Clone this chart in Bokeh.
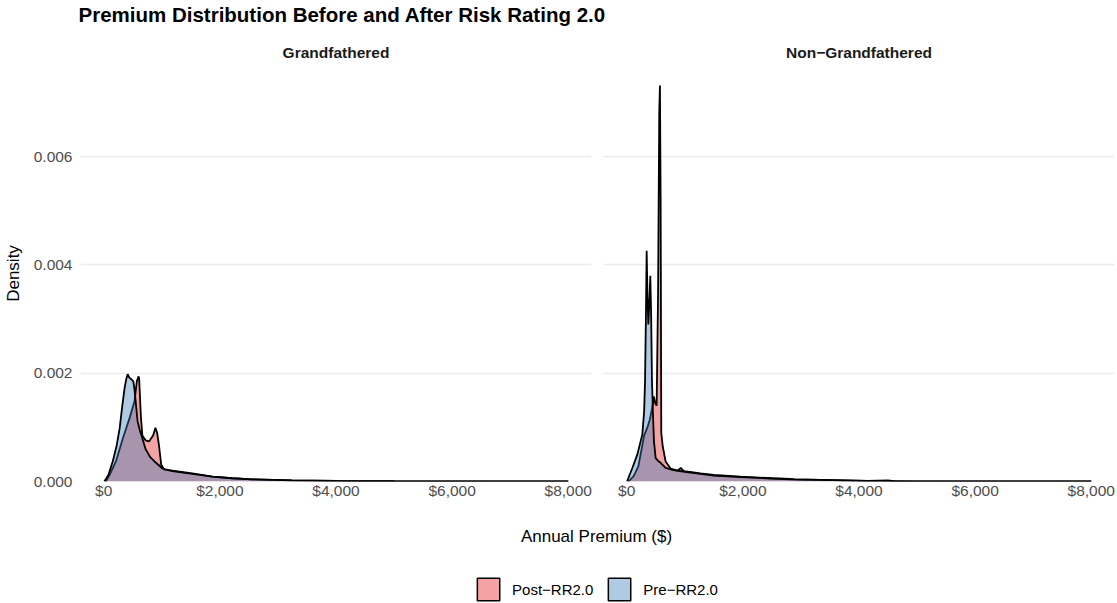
from bokeh.plotting import figure
from bokeh.layouts import column, row
from bokeh.models import Range1d, FixedTicker, NumeralTickFormatter, Title, Legend, LegendItem
from bokeh.embed import file_html
from bokeh.resources import INLINE

FONT = "Liberation Sans"

# ---- data (Annual premium $, density) ----
grand_post_x = [35, 100, 210, 330, 445, 530, 570, 600, 610, 640, 665, 720, 780, 850, 890, 920, 950, 990, 1040,
                1180, 1525, 1870, 2210, 2555, 3240, 4000, 5000, 6000, 7000, 8000]
grand_post_y = [0, 0.00012, 0.00037, 0.0008, 0.00117, 0.00148, 0.00185, 0.00194, 0.0019, 0.0012, 0.00085,
                0.00076, 0.00074, 0.00085, 0.00099, 0.0009, 0.00068, 0.00031, 0.00022,
                0.0002, 0.00015, 0.00009, 0.00006, 0.00004, 0.00002, 0.00001, 0.000005, 0.000003, 0.000002, 0.000001]

grand_pre_x = [10, 80, 155, 220, 274, 320, 360, 390, 412, 440, 463, 490, 510, 530, 550, 583, 620, 670, 720,
               800, 875, 950, 1010, 1180, 1525, 1870, 2210, 2555, 3240, 4000, 5000, 6000, 7000, 8000]
grand_pre_y = [0, 0.00012, 0.00037, 0.00065, 0.00098, 0.0014, 0.00173, 0.0019, 0.00198, 0.00192, 0.0019,
               0.00187, 0.00185, 0.0017, 0.00148, 0.00111, 0.00095, 0.00078, 0.0006,
               0.00045, 0.00037, 0.0003, 0.00024, 0.00019, 0.00014, 0.00009, 0.00006, 0.00004, 0.00002,
               0.00001, 0.000005, 0.000003, 0.000002, 0.000001]

nong_post_x = [30, 120, 200, 300, 350, 400, 445, 465, 490, 515, 540, 560, 572, 584, 595, 620, 670, 755, 880,
               930, 980, 1150, 1270, 1500, 1960, 2500, 2820, 2900, 3330, 4140, 4500, 4600, 5000, 6000, 7000, 8000]
nong_post_y = [0, 0.0001, 0.00028, 0.00085, 0.00098, 0.00115, 0.0014, 0.00157, 0.00145, 0.0014, 0.0035,
               0.0068, 0.00731, 0.0052, 0.0009, 0.00065, 0.00037, 0.00024, 0.0002,
               0.00025, 0.00019, 0.00017, 0.00015, 0.00012, 0.00009, 0.00006, 0.00005, 0.00004, 0.00003,
               0.00001, 0.00002, 0.000005, 0.000003, 0.000002, 0.000001, 0.0]

nong_pre_x = [5, 97, 183, 269, 300, 315, 330, 343, 358, 372, 390, 406, 420, 435, 452, 469, 498, 540, 580,
              670, 800, 1000, 1270, 1500, 1960, 2400, 2820, 3330, 4140, 5000, 6000, 7000, 8000]
nong_pre_y = [0, 0.00025, 0.0005, 0.00087, 0.0013, 0.00185, 0.003, 0.00426, 0.0034, 0.0029, 0.0033,
              0.0038, 0.0031, 0.00185, 0.00124, 0.00074, 0.00043, 0.00038, 0.00035,
              0.00025, 0.00021, 0.00018, 0.00014, 0.00011, 0.00008, 0.00006, 0.00004, 0.00003, 0.00001,
              0.000003, 0.000002, 0.000001, 0.0]

panels = ["Grandfathered", "Non\u2212Grandfathered"]
groups = ["Post\u2212RR2.0", "Pre\u2212RR2.0"]
group_colors = ["#E41A1C", "#377EB8"]
x_ticks = [0, 2000, 4000, 6000, 8000]
y_ticks = [0, 0.002, 0.004, 0.006]

title_text = "Premium Distribution Before and After Risk Rating 2.0"
x_label = "Annual Premium ($)"
y_label = "Density"

X_RANGE = (-400, 8400)
Y_RANGE = (0, 0.00768)


def make_panel(name, series, width, left, right, show_y):
    p = figure(width=width, height=477, x_range=Range1d(*X_RANGE), y_range=Range1d(*Y_RANGE),
               toolbar_location=None, output_backend="svg",
               min_border_left=left, min_border_right=right, min_border_top=37, min_border_bottom=24)
    p.title = Title(text=name, align="center", text_font=FONT, text_font_size="15.5px",
                    text_font_style="bold", text_color="#1A1A1A", standoff=9)
    p.outline_line_color = None
    p.background_fill_color = "white"
    p.border_fill_color = "white"
    p.xgrid.visible = False
    p.ygrid.ticker = FixedTicker(ticks=y_ticks)
    p.ygrid.grid_line_color = "#EBEBEB"
    p.ygrid.grid_line_width = 1.3
    p.xaxis.ticker = FixedTicker(ticks=x_ticks)
    p.xaxis.formatter = NumeralTickFormatter(format="$0,0")
    p.yaxis.ticker = FixedTicker(ticks=y_ticks)
    p.yaxis.formatter = NumeralTickFormatter(format="0.000")
    for ax in [p.xaxis[0], p.yaxis[0]]:
        ax.axis_line_color = None
        ax.major_tick_line_color = None
        ax.minor_tick_line_color = None
        ax.major_tick_out = 0
        ax.major_tick_in = 0
        ax.minor_tick_out = 0
        ax.minor_tick_in = 0
        ax.major_label_text_font = FONT
        ax.major_label_text_font_size = "15.5px"
        ax.major_label_text_color = "#4D4D4D"
    p.xaxis.major_label_standoff = 0
    p.yaxis.major_label_standoff = 8
    if show_y:
        p.yaxis.axis_label = y_label
        p.yaxis.axis_label_text_font = FONT
        p.yaxis.axis_label_text_font_size = "17px"
        p.yaxis.axis_label_text_font_style = "normal"
        p.yaxis.axis_label_text_color = "black"
        p.yaxis.axis_label_standoff = 8
    else:
        p.yaxis.visible = False
    for (xs, ys), col in zip(series, group_colors):
        p.varea(x=xs, y1=[0] * len(xs), y2=ys, fill_color=col, fill_alpha=0.4)
        p.line(x=xs, y=ys, line_color="black", line_width=1.8)
    return p


p1 = make_panel(panels[0], [(grand_post_x, grand_post_y), (grand_pre_x, grand_pre_y)], 597, 78, 6, True)
p2 = make_panel(panels[1], [(nong_post_x, nong_post_y), (nong_pre_x, nong_pre_y)], 520, 6, 3, False)

# main title strip
pt = figure(width=1117, height=28, x_range=Range1d(0, 1), y_range=Range1d(0, 1),
            toolbar_location=None, output_backend="svg",
            min_border_left=78, min_border_right=0, min_border_top=0, min_border_bottom=0)
pt.title = Title(text=title_text, align="left", text_font=FONT, text_font_size="20.5px",
                 text_font_style="bold", text_color="black", standoff=0)
pt.axis.visible = False
pt.grid.visible = False
pt.outline_line_color = None

# bottom strip: shared x-axis title and legend
pb = figure(width=1117, height=98, x_range=Range1d(0, 1), y_range=Range1d(0, 1),
            toolbar_location=None, output_backend="svg",
            min_border_left=78, min_border_right=3, min_border_top=40, min_border_bottom=0)
pb.title = Title(text=x_label, align="center", text_font=FONT, text_font_size="17px",
                 text_font_style="normal", text_color="black", standoff=0)
pb.axis.visible = False
pb.grid.visible = False
pb.outline_line_color = None
items = []
for g, col in zip(groups, group_colors):
    # legend key proxies, kept outside the visible range of this strip
    r = pb.quad(left=[-10], right=[-9], top=[-9], bottom=[-10], fill_color=col, fill_alpha=0.4,
                line_color="black", line_width=1.5)
    items.append(LegendItem(label=g, renderers=[r]))
leg = Legend(items=items, orientation="horizontal", location="bottom_center",
             glyph_width=28, glyph_height=28, label_standoff=10, spacing=12,
             padding=0, margin=0, border_line_color=None, background_fill_alpha=0,
             label_text_font=FONT, label_text_font_size="15px", label_text_color="black")
pb.add_layout(leg, "center")

layout = column(pt, row(p1, p2), pb)
open("out.html", "w").write(file_html(layout, INLINE))
